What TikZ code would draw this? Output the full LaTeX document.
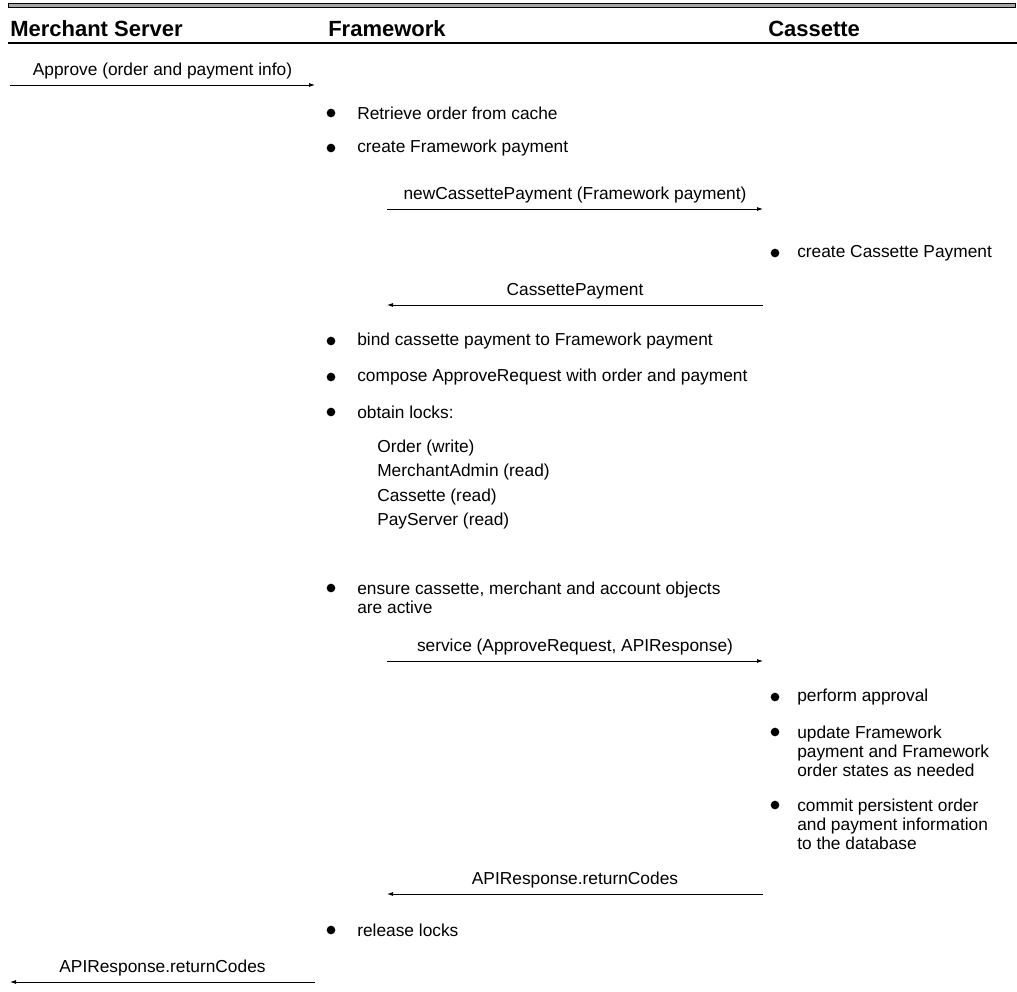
\documentclass[tikz,border=0pt]{standalone}
\usepackage{fontspec}
\setmainfont{Liberation Sans}
\usetikzlibrary{arrows.meta}

\begin{document}
\begin{tikzpicture}[x=0.75pt, y=-0.75pt, >={Latex[length=4.5pt,width=3pt]},
  every node/.style={inner sep=0pt},
  head/.style={anchor=west, font=\bfseries\fontsize{16.5}{18}\selectfont},
  txt/.style={anchor=west, align=left, font=\fontsize{13}{14.2}\selectfont},
  lbl/.style={above=4pt, font=\fontsize{13}{14.2}\selectfont},
  dot/.style={circle, fill=black, minimum size=6.5pt},
  msg/.style={->, line width=0.6pt}]

\useasboundingbox (0,0) rectangle (1017,992);

% title rules
\draw[line width=0.4pt, fill=black!35] (8,3.5) rectangle (1015,7.5);
\node[head] (hms) at (10,29)  {Merchant Server};
\node[head] (hfw) at (328,29) {Framework};
\node[head] (hcs) at (768,29) {Cassette};
\draw[line width=0.9pt] (8,43) -- (1017,43);

% lifeline ends for the messages
\coordinate (ms1) at (10,85);   \coordinate (fw1) at (315,85);
\coordinate (fw2) at (387,209); \coordinate (cs2) at (763,209);
\coordinate (cs3) at (763,305); \coordinate (fw3) at (387,305);
\coordinate (fw4) at (387,661); \coordinate (cs4) at (763,661);
\coordinate (cs5) at (763,894); \coordinate (fw5) at (387,894);
\coordinate (fw6) at (315,982); \coordinate (ms6) at (10,982);

\draw[msg] (ms1) -- node[lbl]{Approve (order and payment info)} (fw1);

\node[dot] (d1) at (331,113) {}; \node[txt] (t1) at (357,113) {Retrieve order from cache};
\node[dot] (d2) at (331,148) {}; \node[txt] (t2) at (357,148) {create Framework payment};

\draw[msg] (fw2) -- node[lbl]{newCassettePayment (Framework payment)} (cs2);

\node[dot] (d3) at (775,253) {}; \node[txt] (t3) at (797,253) {create Cassette Payment};

\draw[msg] (cs3) -- node[lbl]{CassettePayment} (fw3);

\node[dot] (d4) at (331,341) {}; \node[txt] (t4) at (357,341) {bind cassette payment to Framework payment};
\node[dot] (d5) at (331,377) {}; \node[txt] (t5) at (357,377) {compose ApproveRequest with order and payment};
\node[dot] (d6) at (331,412) {}; \node[txt] (t6) at (357,412) {obtain locks:};
\node[txt, font=\fontsize{13}{18.2}\selectfont] (locks) at (377,484.5)
  {Order (write)\\MerchantAdmin (read)\\Cassette (read)\\PayServer (read)};
\node[dot] (d7) at (331,588) {}; \node[txt] (t7) at (357,598)
  {ensure cassette, merchant and account objects\\are active};

\draw[msg] (fw4) -- node[lbl]{service (ApproveRequest, APIResponse)} (cs4);

\node[dot] (d8) at (775,697) {};  \node[txt] (t8) at (797,697) {perform approval};
\node[dot] (d9) at (775,732) {};  \node[txt] (t9) at (797,751)
  {update Framework\\payment and Framework\\order states as needed};
\node[dot] (d10) at (775,805) {}; \node[txt] (t10) at (797,824)
  {commit persistent order\\and payment information\\to the database};

\draw[msg] (cs5) -- node[lbl]{APIResponse.returnCodes} (fw5);

\node[dot] (d11) at (331,930) {}; \node[txt] (t11) at (357,930) {release locks};

\draw[msg] (fw6) -- node[lbl]{APIResponse.returnCodes} (ms6);
\end{tikzpicture}
\end{document}
